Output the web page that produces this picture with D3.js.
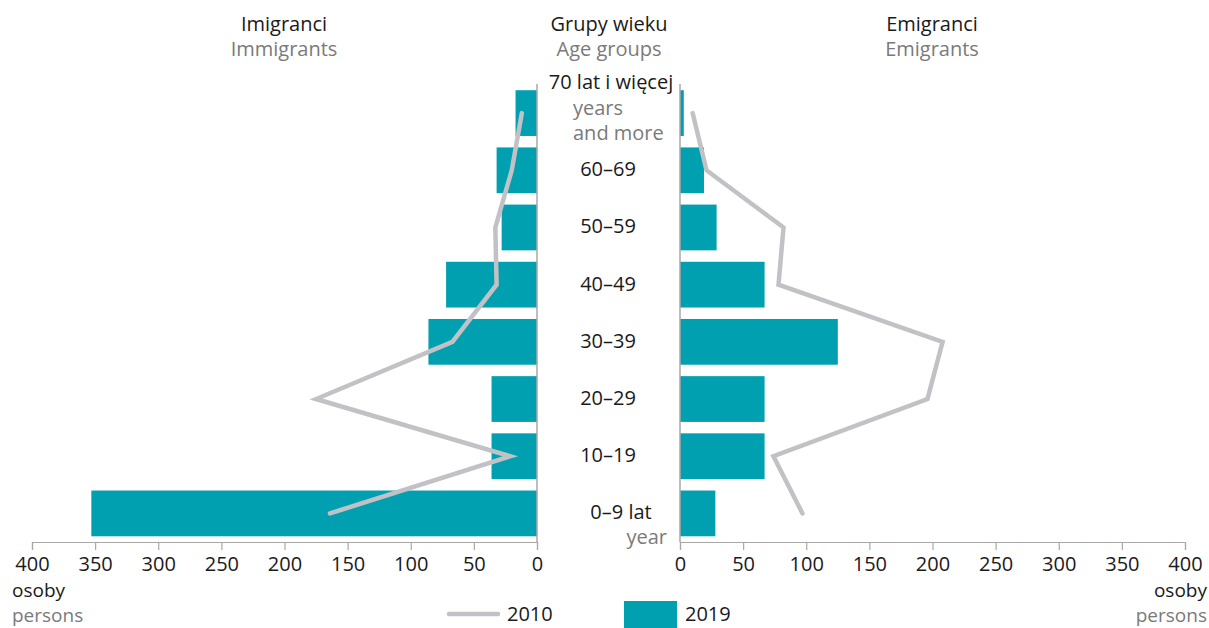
<!DOCTYPE html>
<html><head><meta charset="utf-8">
<script src="https://cdn.jsdelivr.net/npm/d3@7"></script>
<style>
html,body{margin:0;padding:0;background:#fff;}
text{font-family:"Open Sans","Noto Sans",sans-serif;}
</style></head>
<body><svg id="c" width="1209" height="628"></svg>
<script>
const ageGroups = ["70+","60-69","50-59","40-49","30-39","20-29","10-19","0-9"];
const immigrants2019 = [17,32,28,72,86,36,36,353];
const immigrants2010 = [12,20,33,32,67,175,21,164];
const emigrants2019 = [3,19,29,67,125,67,67,28];
const emigrants2010 = [10,21,82,78,208,196,74,97];
const ticks = [0,50,100,150,200,250,300,350,400];

const teal = "#00a0b0", lineGray = "#c2c2c6", dark = "#1a1a1a", grayText = "#7a7a7a", axisGray = "#a8a8a8";
const svg = d3.select("#c");
const fs = 20;
const ff = "'Open Sans', sans-serif";

const y = d3.scaleBand().domain(ageGroups).range([84.5, 542]).paddingInner(0.2).paddingOuter(0.1);
const xL = d3.scaleLinear().domain([0,400]).range([537, 32]);
const xR = d3.scaleLinear().domain([0,400]).range([680, 1185]);

// bars
svg.append("g").selectAll("rect").data(ageGroups).join("rect")
  .attr("x", (d,i)=>xL(immigrants2019[i])).attr("y", d=>y(d))
  .attr("width",(d,i)=>xL(0)-xL(immigrants2019[i])).attr("height", y.bandwidth()).attr("fill", teal);
svg.append("g").selectAll("rect").data(ageGroups).join("rect")
  .attr("x", xR(0)).attr("y", d=>y(d))
  .attr("width",(d,i)=>xR(emigrants2019[i])-xR(0)).attr("height", y.bandwidth()).attr("fill", teal);

// axes
function drawAxis(scale){
  const g = svg.append("g").attr("transform","translate(0,542)");
  const ax = d3.axisBottom(scale).tickValues(ticks).tickSize(8).tickPadding(7).tickFormat(d3.format("d"));
  g.call(ax);
  g.select(".domain").attr("stroke", axisGray).attr("stroke-width",1.2);
  g.selectAll(".tick line").attr("stroke", axisGray).attr("stroke-width",1.2);
  g.selectAll(".tick text").attr("fill", dark).style("font-size", fs+"px").style("font-family", ff);
}
drawAxis(xL); drawAxis(xR);

// vertical lines
svg.append("line").attr("x1",xL(0)).attr("x2",xL(0)).attr("y1",84).attr("y2",542).attr("stroke",axisGray).attr("stroke-width",1.5);
svg.append("line").attr("x1",xR(0)).attr("x2",xR(0)).attr("y1",84).attr("y2",542).attr("stroke",axisGray).attr("stroke-width",1.5);

// 2010 lines
const lineL = d3.line().x(d=>xL(d)).y((d,i)=>y(ageGroups[i])+y.bandwidth()/2);
const lineR = d3.line().x(d=>xR(d)).y((d,i)=>y(ageGroups[i])+y.bandwidth()/2);
svg.append("path").attr("d", lineL(immigrants2010)).attr("fill","none").attr("stroke",lineGray).attr("stroke-width",4.5).attr("stroke-linecap","round");
svg.append("path").attr("d", lineR(emigrants2010)).attr("fill","none").attr("stroke",lineGray).attr("stroke-width",4.5).attr("stroke-linecap","round");

function txt(x,yy,s,color,anchor,size){
  return svg.append("text").attr("x",x).attr("y",yy).attr("fill",color).attr("text-anchor",anchor||"middle").style("font-size",(size||fs)+"px").text(s);
}
// titles
txt(284,31,"Imigranci",dark); txt(284,56,"Immigrants",grayText);
txt(609,31,"Grupy wieku",dark); txt(609,56,"Age groups",grayText);
txt(932,31,"Emigranci",dark); txt(932,56,"Emigrants",grayText);

// age labels
const mid = 608;
const ageLabels = ["70 lat i więcej","60–69","50–59","40–49","30–39","20–29","10–19","0–9 lat"];
ageGroups.forEach((g,i)=>{
  const cy = y(g)+y.bandwidth()/2;
  if(i===0){
    txt(mid+3, 89, ageLabels[i], dark);
    txt(573, 115, "years", grayText, "start");
    txt(573, 140, "and more", grayText, "start");
  } else if(i===ageGroups.length-1){
    txt(mid+13, cy+6, ageLabels[i], dark);
    txt(667, cy+31, "year", grayText, "end");
  } else {
    txt(mid, cy+6, ageLabels[i], dark);
  }
});

// unit labels
txt(12,597,"osoby",dark,"start",19); txt(12,622,"persons",grayText,"start",19);
txt(1207,597,"osoby",dark,"end",19); txt(1207,622,"persons",grayText,"end",19);

// legend
svg.append("line").attr("x1",449).attr("x2",498).attr("y1",614).attr("y2",614).attr("stroke",lineGray).attr("stroke-width",4.5).attr("stroke-linecap","round");
txt(507,621,"2010",dark,"start");
svg.append("rect").attr("x",624).attr("y",601).attr("width",53).attr("height",30).attr("fill",teal);
txt(685,621,"2019",dark,"start");
</script></body></html>
